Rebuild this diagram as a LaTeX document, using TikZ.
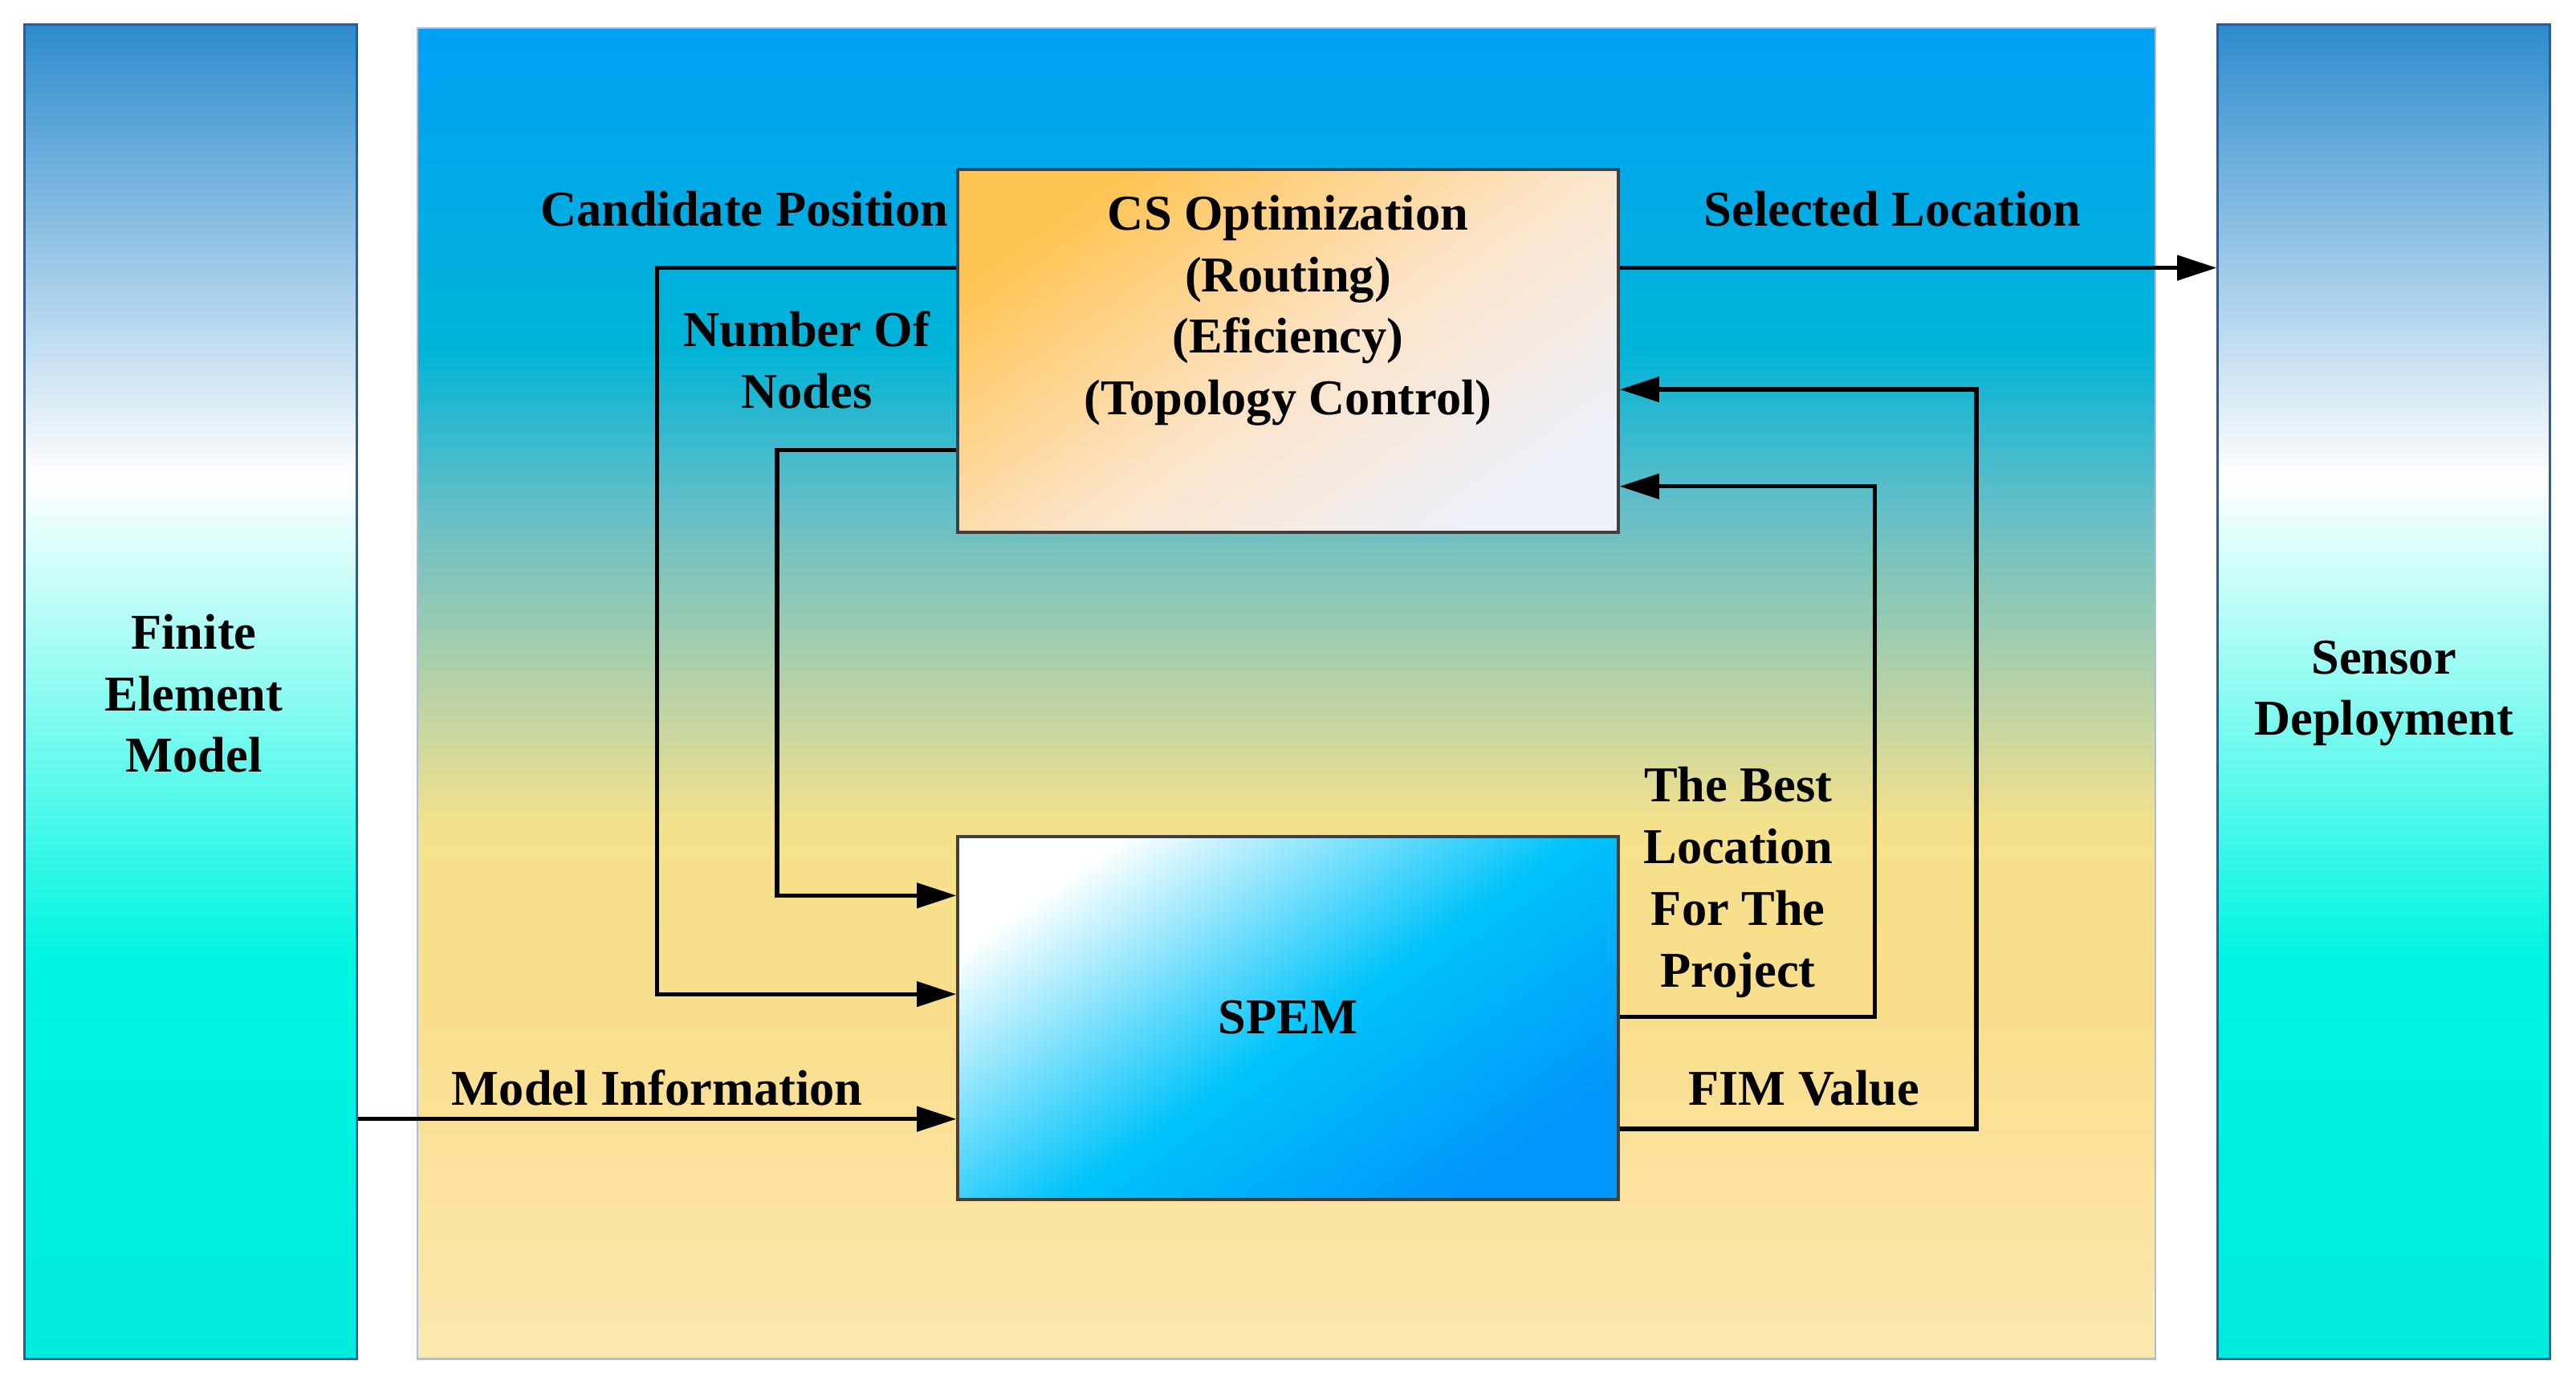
\documentclass[tikz,border=0pt]{standalone}
\usepackage{fontspec}
\setmainfont{Liberation Serif}
\usetikzlibrary{arrows.meta}
\definecolor{pbord}{RGB}{40,90,170}
\definecolor{sA}{RGB}{0,235,220}
\definecolor{sB}{RGB}{0,245,225}
\definecolor{sC}{RGB}{45,140,205}
\definecolor{cA}{RGB}{252,232,175}
\definecolor{cB}{RGB}{250,222,140}
\definecolor{cC}{RGB}{245,225,140}
\definecolor{cD}{RGB}{100,190,200}
\definecolor{cE}{RGB}{0,180,215}
\definecolor{cF}{RGB}{0,160,245}
\definecolor{pA}{RGB}{0,195,250}
\definecolor{pB}{RGB}{0,150,250}
\definecolor{oA}{RGB}{255,195,80}
\definecolor{oB}{RGB}{252,228,200}
\definecolor{oC}{RGB}{238,240,250}
\pgfdeclareverticalshading{side}{100bp}{color(0bp)=(sA);color(25bp)=(sA);color(40bp)=(sB);color(58bp)=(white);color(75bp)=(sC);color(100bp)=(sC)}
\pgfdeclareverticalshading{center}{100bp}{color(0bp)=(cA);color(25bp)=(cA);color(38bp)=(cB);color(45bp)=(cC);color(57bp)=(cD);color(63bp)=(cE);color(75bp)=(cF);color(100bp)=(cF)}
\pgfdeclarehorizontalshading{spem}{100bp}{color(0bp)=(white);color(25bp)=(white);color(52bp)=(pA);color(75bp)=(pB);color(100bp)=(pB)}
\pgfdeclarehorizontalshading{csopt}{100bp}{color(0bp)=(oA);color(25bp)=(oA);color(52bp)=(oB);color(75bp)=(oC);color(100bp)=(oC)}
\tikzset{
 txt/.style={font=\fontsize{30.5}{37.5}\selectfont\bfseries, align=center},
 panel/.style={draw=pbord, line width=1.5pt, shading=side, minimum width=202pt, minimum height=812pt, inner sep=0pt},
 box/.style={draw=black!75, line width=1.8pt, minimum width=402pt, minimum height=221pt, inner sep=0pt},
 con/.style={line width=2.5pt, -{Triangle[length=24pt,width=15pt]}},
}
\begin{document}
\begin{tikzpicture}[x=1pt,y=1pt]
\useasboundingbox (0,0) rectangle (1568,-845);
\node[draw=pbord!40, line width=1pt, shading=center, minimum width=1058pt, minimum height=810pt, inner sep=0pt] (bg) at (783,-422) {};
\node[panel] (fem) at (116,-421) {};
\node[panel] (sd) at (1451,-421) {};
\node[txt] (femt) at (118,-422) {Finite\\Element\\Model};
\node[txt] (sdt) at (1451,-422) {Sensor\\Deployment};
\node[box, shading=csopt, shading angle=-55] (cs) at (784,-213.5) {};
\node[txt] (cst) at (784,-189) {CS Optimization\\(Routing)\\(Eficiency)\\(Topology Control)};
\node[box, shading=spem, shading angle=-55] (sp) at (784,-619.5) {};
\node[txt] (spt) at (784,-619) {SPEM};
\coordinate (c1) at (400,-163); \coordinate (c2) at (400,-605);
\coordinate (n1) at (473,-274); \coordinate (n2) at (473,-545);
\coordinate (b1) at (1141,-619); \coordinate (b2) at (1141,-296);
\coordinate (f1) at (1203,-687); \coordinate (f2) at (1203,-237);
\draw[con] (cs.west |- c1) -- (c1) -- (c2) -- (sp.west |- c2);
\draw[con] (cs.west |- n1) -- (n1) -- (n2) -- (sp.west |- n2);
\draw[con] (fem.east |- 0,-681) -- (sp.west |- 0,-681);
\draw[con] (cs.east |- c1) -- (sd.west |- c1);
\draw[con] (sp.east |- b1) -- (b1) -- (b2) -- (cs.east |- b2);
\draw[con] (sp.east |- f1) -- (f1) -- (f2) -- (cs.east |- f2);
\node[txt] (l1) at (453,-127) {Candidate Position};
\node[txt] (l2) at (1152,-127) {Selected Location};
\node[txt] (l3) at (491,-219) {Number Of\\Nodes};
\node[txt] (l4) at (400,-662) {Model Information};
\node[txt] (l5) at (1058,-537) {The Best\\Location\\For The\\Project};
\node[txt] (l6) at (1098,-662) {FIM Value};
\end{tikzpicture}
\end{document}
